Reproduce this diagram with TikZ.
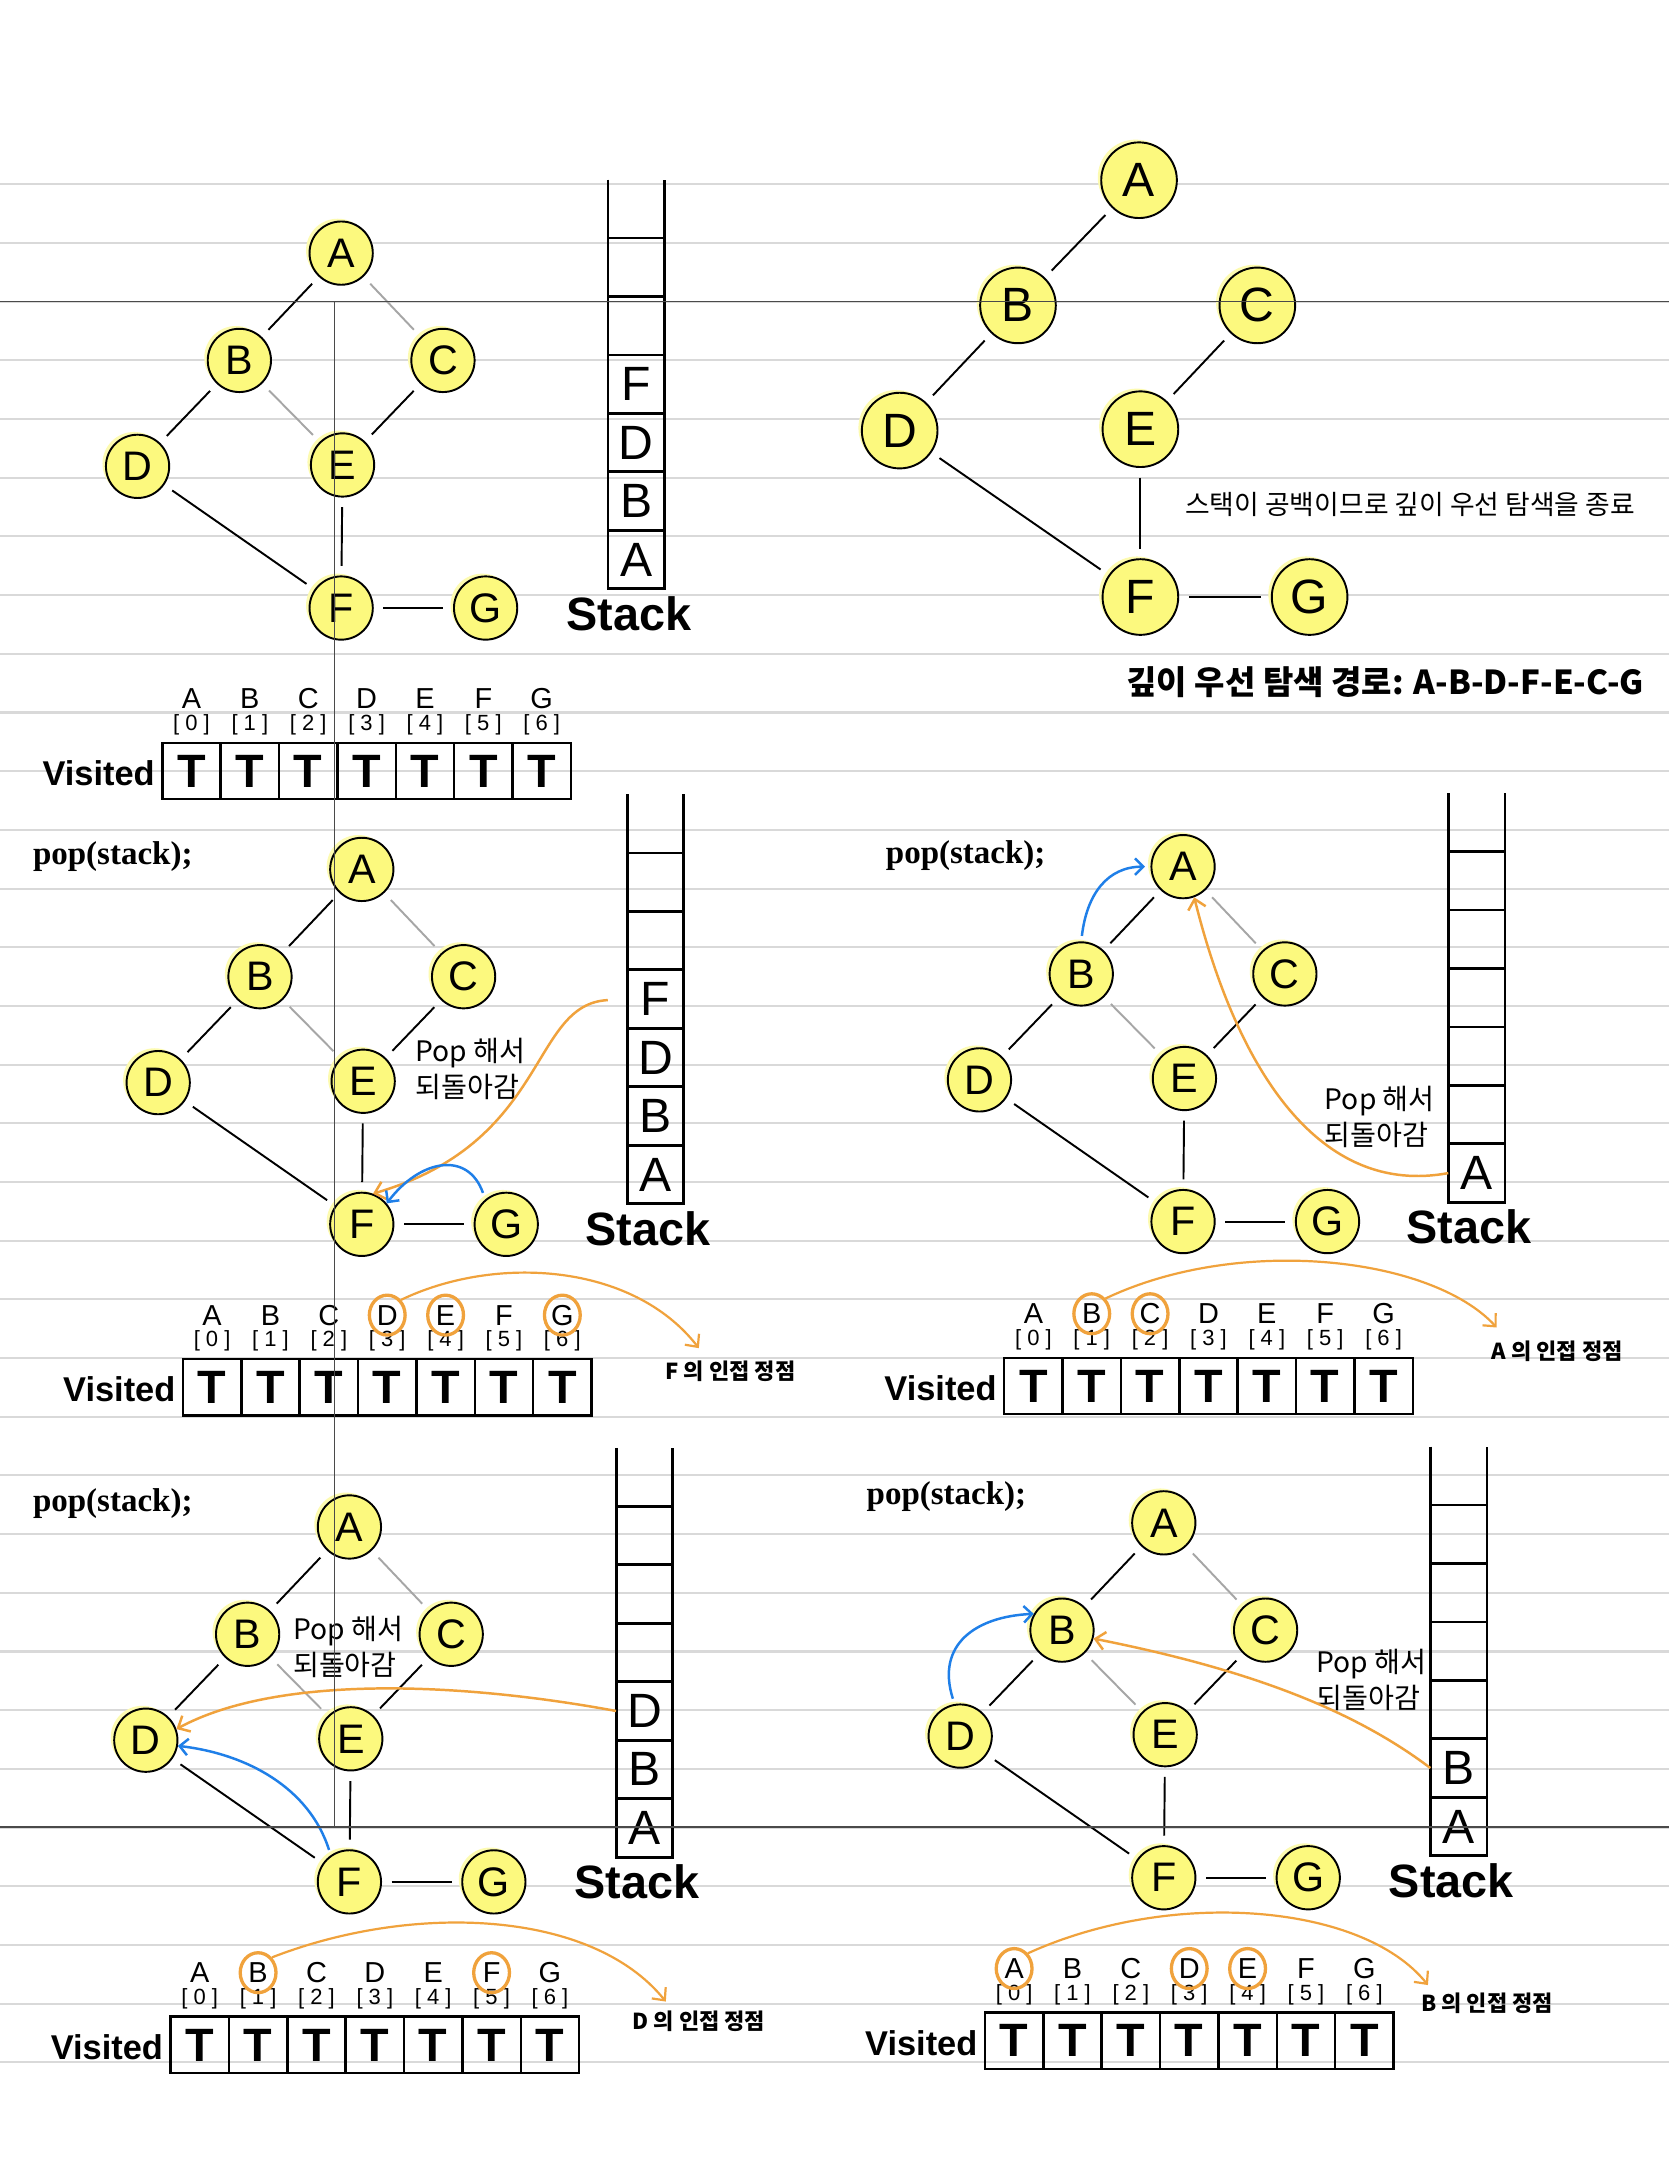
\documentclass[tikz,border=0pt]{standalone}
\usepackage{fontspec}
\setmainfont{Liberation Sans}
\newfontfamily\kofont{Noto Sans CJK KR}
\newfontfamily\codefont{Liberation Serif}
\usepackage{xcolor}
\usepackage{tikz}
\usetikzlibrary{positioning, arrows.meta, shapes}

\definecolor{nodefill}{HTML}{FCF97E}
\definecolor{halo}{HTML}{FDFBB0}
\definecolor{popline}{HTML}{F0A23C}
\definecolor{backline}{HTML}{1F7FE8}
\definecolor{ruled}{HTML}{D9D9D9}
\definecolor{guide}{HTML}{4A4A4A}

\begin{document}
\begin{tikzpicture}[x=1pt, y=-1pt,
    vertex/.style={circle, draw, line width=1.4pt, fill=nodefill, minimum size=46pt, inner sep=0pt,
        font=\fontsize{30}{30}\selectfont,
        preaction={fill=halo, transform canvas={shift={(-2.5pt,2pt)}}}},
    bigvertex/.style={vertex, minimum size=55pt, font=\fontsize{35}{35}\selectfont},
    link/.style={line width=1.4pt, shorten >=7pt, shorten <=7pt},
    backlink/.style={link, draw=gray!70},
    stackline/.style={line width=2pt},
    slot/.style={minimum width=41pt, minimum height=42.5pt, inner sep=0pt, font=\fontsize{35}{35}\selectfont},
    stacklabel/.style={font=\bfseries\fontsize{34}{34}\selectfont},
    viscell/.style={draw, line width=1.8pt, minimum width=42.43pt, minimum height=41pt, inner sep=0pt,
        font=\bfseries\fontsize{34}{34}\selectfont},
    vislabel/.style={font=\bfseries\fontsize{25}{25}\selectfont},
    letter/.style={inner sep=1pt, font=\fontsize{21}{21}\selectfont},
    idx/.style={inner sep=1pt, font=\fontsize{16}{16}\selectfont},
    ring/.style={ellipse, draw=popline, line width=2.4pt, minimum width=26pt, minimum height=29pt, inner sep=0pt},
    popcode/.style={font=\codefont\bfseries\fontsize{24}{24}\selectfont},
    popnote/.style={align=left, inner sep=0pt, font=\kofont\fontsize{20.5}{26}\selectfont},
    adjnote/.style={font=\kofont\bfseries\fontsize{16}{16}\selectfont},
    poparrow/.style={draw=popline, line width=1.8pt, -{Straight Barb[length=7pt, width=13pt]}},
    backarrow/.style={draw=backline, line width=1.8pt, -{Straight Barb[length=6pt, width=12pt]}},
]
    \fill[white] (0,0) rectangle (1213,1568);
    \useasboundingbox (0,0) rectangle (1213,1568);

    % ruled paper
    \foreach \k in {0,...,32}
        \draw[ruled, line width=1.5pt] (0,134+42.66*\k) -- (1213,134+42.66*\k);

    % graphs
    \foreach \p/\ax/\ay in {1/248/184, 3/263/632, 4/860/630, 5/254/1110, 6/846/1107} {
        \node[vertex] (A\p) at (\ax,\ay) {A};
        \node[vertex] (B\p) at (\ax-74,\ay+78) {B};
        \node[vertex] (C\p) at (\ax+74,\ay+78) {C};
        \node[vertex] (D\p) at (\ax-148,\ay+155) {D};
        \node[vertex] (E\p) at (\ax+1,\ay+154) {E};
        \node[vertex] (F\p) at (\ax,\ay+258) {F};
        \node[vertex] (G\p) at (\ax+105,\ay+258) {G};
        \draw[link] (A\p) -- (B\p);
        \draw[backlink] (A\p) -- (C\p);
        \draw[link] (B\p) -- (D\p);
        \draw[backlink] (B\p) -- (E\p);
        \draw[link] (C\p) -- (E\p);
        \draw[link] (D\p) -- (F\p);
        \draw[link] (E\p) -- (F\p);
        \draw[link] (F\p) -- (G\p);
    }

    % finished search
    \node[bigvertex] (A2) at (828,131) {A};
    \node[bigvertex] (B2) at (740,222) {B};
    \node[bigvertex] (C2) at (914,222) {C};
    \node[bigvertex] (D2) at (654,313) {D};
    \node[bigvertex] (E2) at (829,312) {E};
    \node[bigvertex] (F2) at (829,434) {F};
    \node[bigvertex] (G2) at (952,434) {G};
    \draw[link] (A2) -- (B2);
    \draw[link] (B2) -- (D2);
    \draw[link] (C2) -- (E2);
    \draw[link] (D2) -- (F2);
    \draw[link] (E2) -- (F2);
    \draw[link] (F2) -- (G2);
    \node[font=\kofont\fontsize{19.5}{19.5}\selectfont] (endnote) at (1025,367) {스택이 공백이므로 깊이 우선 탐색을 종료};
    \node[font=\kofont\bfseries\fontsize{24}{24}\selectfont] (route) at (1007,496) {깊이 우선 탐색 경로: A-B-D-F-E-C-G};

    % stacks
    \foreach \p/\sx/\sb/\items in {1/442/428/{A,B,D,F}, 3/456/875/{A,B,D,F}, 4/1053/874/{A}, 5/448/1350/{A,B,D}, 6/1040/1349/{A,B}} {
        \draw[stackline] (\sx,\sb-297.5) -- (\sx,\sb) -- (\sx+41,\sb) -- (\sx+41,\sb-297.5);
        \foreach \k in {1,...,6}
            \draw[stackline] (\sx,\sb-42.5*\k) -- (\sx+41,\sb-42.5*\k);
        \foreach \l [count=\k from 0] in \items
            \node[slot] (s\p\l) at (\sx+20.5,\sb-21.25-42.5*\k) {\l};
        \node[stacklabel] (stack\p) at (\sx+15,\sb+18) {Stack};
    }

    % visited arrays
    \foreach \p/\vx/\vy in {1/118/540, 3/133/988, 4/730/987, 5/124/1466, 6/716/1463} {
        \node[vislabel, anchor=east] (visited\p) at (\vx-2,\vy+22) {Visited};
        \foreach \l [count=\i from 0] in {A,B,C,D,E,F,G} {
            \node[viscell] (v\p\l) at (\vx+21.2+42.43*\i,\vy+20.5) {T};
            \node[idx] (i\p\l) at (\vx+21.2+42.43*\i,\vy-13) {[\;\i\;]};
            \node[letter] (l\p\l) at (\vx+21.2+42.43*\i,\vy-32) {\l};
        }
    }

    % pop steps
    \node[popcode] (pop3) at (82,623) {pop(stack);};
    \node[popcode] (pop4) at (702,622) {pop(stack);};
    \node[popcode] (pop5) at (82,1093) {pop(stack);};
    \node[popcode] (pop6) at (688,1088) {pop(stack);};
    \node[popnote] (note3) at (342,777) {Pop 해서\\되돌아감};
    \node[popnote] (note4) at (1003,812) {Pop 해서\\되돌아감};
    \node[popnote] (note5) at (253,1197) {Pop 해서\\되돌아감};
    \node[popnote] (note6) at (997,1221) {Pop 해서\\되돌아감};

    \draw[poparrow, shorten <=14pt] (s3F.west) .. controls (385,730) and (400,830) .. (F3.70);
    \draw[poparrow] (s4A.west) .. controls (960,870) and (900,780) .. (A4.-70);
    \draw[poparrow] (s5D.west) .. controls (330,1222) and (200,1218) .. (D5.20);
    \draw[poparrow] (s6B.west) .. controls (980,1240) and (900,1212) .. (B6.-15);

    \draw[backarrow, shorten <=5pt] (G3.130) .. controls (340,836) and (305,843) .. (F3.40);
    \draw[backarrow, shorten <=4pt, shorten >=4pt] (B4.north) .. controls (790,650) and (805,630) .. (A4.west);
    \draw[backarrow, shorten <=4pt] (F5.125) .. controls (225,1300) and (180,1275) .. (D5.-10);
    \draw[backarrow, shorten <=4pt] (D6.100) .. controls (680,1195) and (710,1175) .. (B6.150);

    % adjacent vertices
    \node[ring] (r3D) at (l3D) {};
    \node[ring] (r3E) at (l3E) {};
    \node[ring] (r3G) at (l3G) {};
    \node[ring] (r4B) at (l4B) {};
    \node[ring] (r4C) at (l4C) {};
    \node[ring] (r5B) at (l5B) {};
    \node[ring] (r5F) at (l5F) {};
    \node[ring] (r6A) at (l6A) {};
    \node[ring] (r6D) at (l6D) {};
    \node[ring] (r6E) at (l6E) {};

    \coordinate (tip3) at (508,980);
    \coordinate (tip4) at (1088,965);
    \coordinate (tip5) at (484,1455);
    \coordinate (tip6) at (1038,1443);
    \draw[poparrow, line width=1.6pt] (r3D.north east) .. controls (360,912) and (460,918) .. (tip3);
    \draw[poparrow, line width=1.6pt] (r4B.north east) .. controls (900,898) and (1040,913) .. (tip4);
    \draw[poparrow, line width=1.6pt] (r5B.north east) .. controls (300,1383) and (430,1388) .. (tip5);
    \draw[poparrow, line width=1.6pt] (r6A.north east) .. controls (850,1373) and (990,1383) .. (tip6);
    \node[adjnote] (adj3) at (531,997) {F 의 인접 정점};
    \node[adjnote] (adj4) at (1132,982) {A 의 인접 정점};
    \node[adjnote] (adj5) at (508,1469) {D 의 인접 정점};
    \node[adjnote] (adj6) at (1081,1456) {B 의 인접 정점};

    % guide lines
    \draw[guide, line width=1pt] (0,219) -- (1213,219);
    \draw[guide, line width=1pt] (0,1328) -- (1213,1328);
    \draw[guide, line width=1pt] (243,219) -- (243,1328);
\end{tikzpicture}
\end{document}
